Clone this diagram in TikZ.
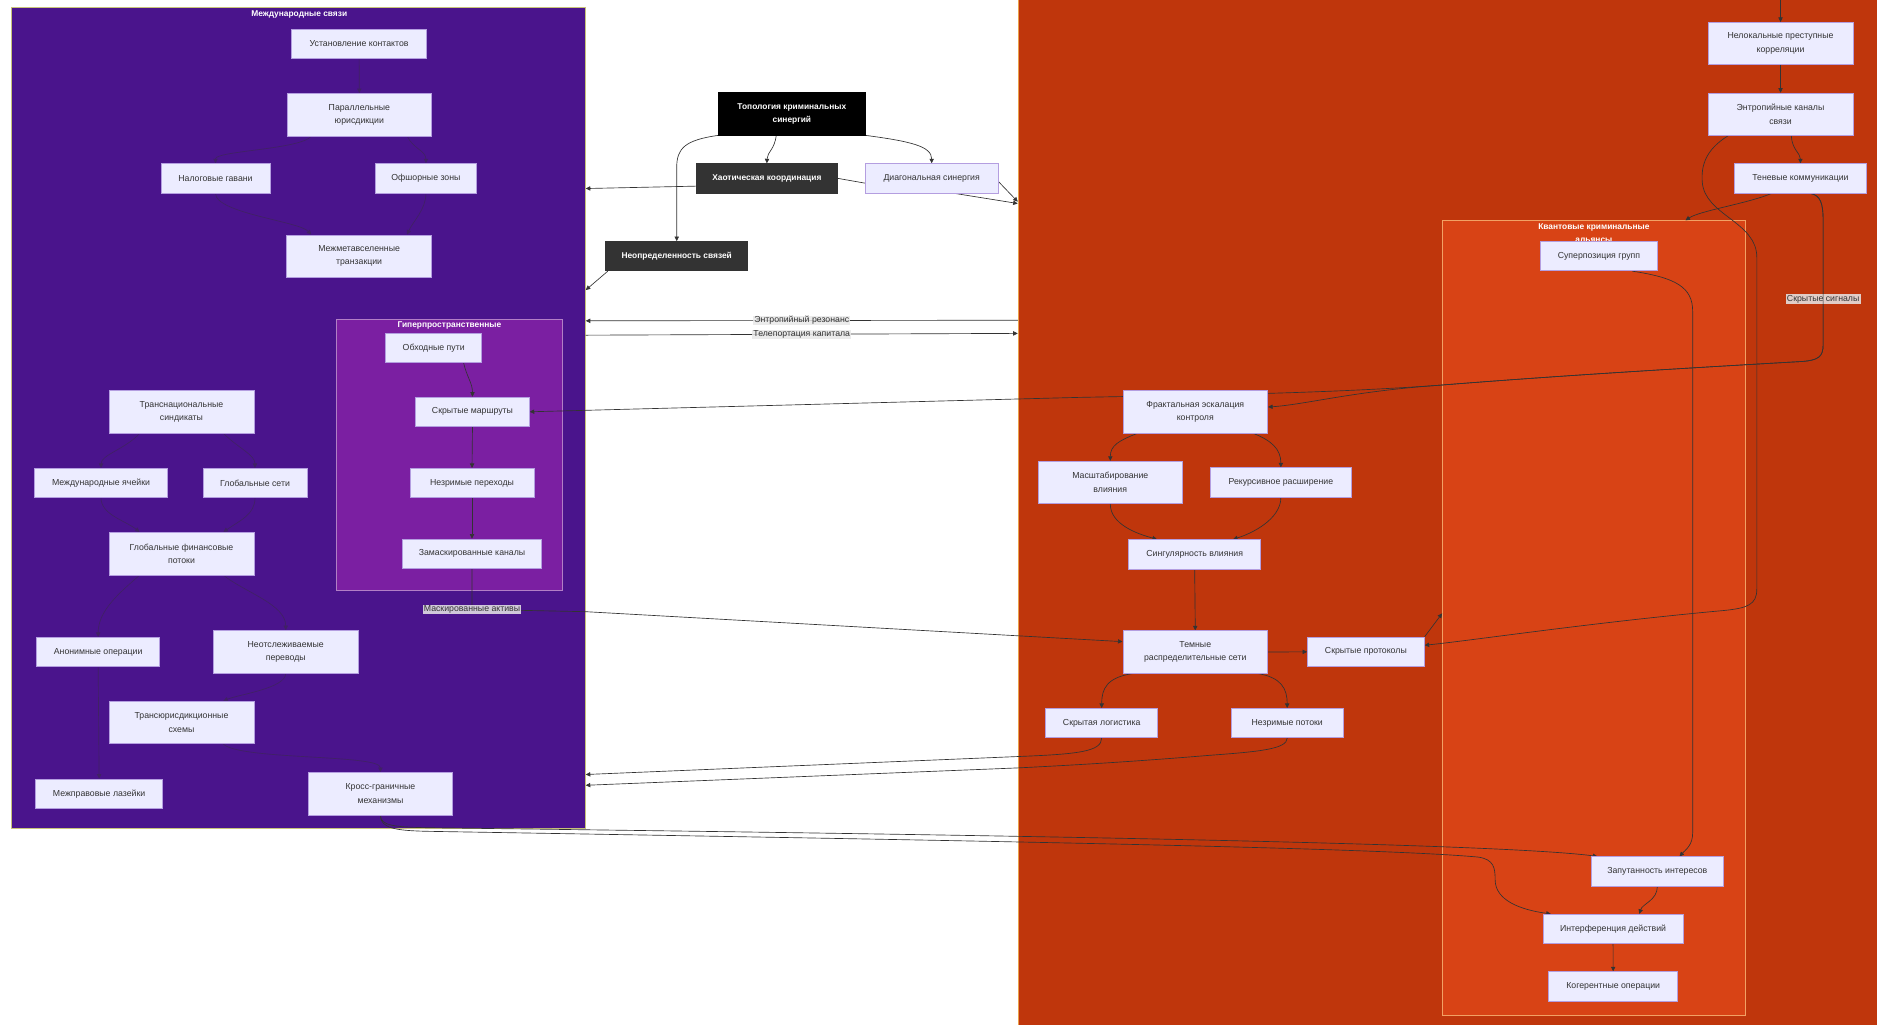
\documentclass[tikz,border=0pt]{standalone}
\usepackage{fontspec}
\setmainfont{Liberation Sans}
\usetikzlibrary{arrows.meta}

\definecolor{grpLeft}{HTML}{4A148C}
\definecolor{grpHyper}{HTML}{7B1FA2}
\definecolor{grpRight}{HTML}{BF360C}
\definecolor{grpQuant}{HTML}{D84315}
\definecolor{lineLeft}{HTML}{C8C27A}
\definecolor{lineHyper}{HTML}{B27FC6}
\definecolor{lineRight}{HTML}{EBA048}
\definecolor{lineQuant}{HTML}{F2A164}
\definecolor{boxFill}{HTML}{ECECFF}
\definecolor{boxLine}{HTML}{B49EE0}
\definecolor{inkDark}{HTML}{333333}
\definecolor{lblFill}{HTML}{E8E8E8}

\pgfdeclarelayer{groups}
\pgfdeclarelayer{edges}
\pgfsetlayers{groups,edges,main}

\begin{document}
\begin{tikzpicture}[x=1pt, y=-1pt,
  box/.style={draw=boxLine, line width=.6pt, fill=boxFill, text=inkDark,
    font=\fontsize{7.3}{11.2}\selectfont, align=center, inner sep=0pt,
    minimum height=24.5pt},
  tallbox/.style={box, minimum height=35.5pt},
  darkbox/.style={box, draw=inkDark, fill=inkDark, text=white,
    font=\fontsize{7}{11.2}\selectfont\bfseries},
  grp/.style={line width=.6pt, inner sep=0pt},
  grptitle/.style={text=white, font=\fontsize{7}{10.8}\selectfont\bfseries,
    align=center, inner sep=0pt},
  link/.style={draw=inkDark, line width=.55pt, -{Triangle[length=3.8pt,width=3.6pt]}},
  faintlink/.style={link, draw=inkDark!45!grpLeft},
  linklbl/.style={fill=lblFill, fill opacity=.85, text opacity=1, text=inkDark,
    font=\fontsize{7.3}{9}\selectfont, inner xsep=1pt, inner ysep=.6pt}]
\useasboundingbox (0,0) rectangle (1568,856);

\begin{pgfonlayer}{groups}
  \fill[white] (0,0) rectangle (1568,856);
  \node[grp, draw=lineLeft, fill=grpLeft, minimum width=479.4pt, minimum height=686pt] (mezhdunar) at (249.3,349) {};
  \node[grp, draw=lineHyper, fill=grpHyper, minimum width=189.3pt, minimum height=226.5pt] (hypergrp) at (375.35,379.75) {};
  \node[grp, draw=lineRight, fill=grpRight, minimum width=719.5pt, minimum height=860pt] (rightgrp) at (1210.25,428) {};
  \node[grp, draw=lineQuant, fill=grpQuant, minimum width=253pt, minimum height=663.6pt] (quantgrp) at (1331.5,516.2) {};
\end{pgfonlayer}

\node[grptitle] (mezhTitle) at (250,12.5) {Международные связи};
\node[grptitle] (hyperTitle) at (375.4,272) {Гиперпространственные};
\node[grptitle] (quantTitle) at (1331.5,195.1) {Квантовые криминальные\\альянсы};

% центр
\node[darkbox, fill=black, draw=black, minimum height=35.5pt, minimum width=122pt] (topol) at (661.5,95) {Топология криминальных\\синергий};
\node[darkbox, minimum width=118pt] (chaos) at (640.6,149) {Хаотическая координация};
\node[box, minimum width=111pt] (diag) at (778.3,149) {Диагональная синергия};
\node[darkbox, minimum width=118.6pt] (neopr) at (565.3,214) {Неопределенность связей};

% международные связи
\node[box, minimum width=113pt] (ustanov) at (300,36.5) {Установление контактов};
\node[tallbox, minimum width=121pt] (parall) at (300.2,95.8) {Параллельные\\юрисдикции};
\node[box, minimum width=91pt] (nalog) at (180,149) {Налоговые гавани};
\node[box, minimum width=85pt] (offsh) at (355.8,149) {Офшорные зоны};
\node[tallbox, minimum width=121pt] (mezhmeta) at (300,214) {Межметавселенные\\транзакции};
\node[tallbox, minimum width=121pt] (transnat) at (151.6,344) {Транснациональные\\синдикаты};
\node[box, minimum width=111pt] (yacheiki) at (84.4,403.5) {Международные ячейки};
\node[box, minimum width=87pt] (globset) at (213,403.5) {Глобальные сети};
\node[tallbox, minimum width=121pt] (finpot) at (151.6,462.5) {Глобальные финансовые\\потоки};
\node[box, minimum width=103pt] (anonim) at (82,544.7) {Анонимные операции};
\node[tallbox, minimum width=121pt] (neotsl) at (238.7,544.4) {Неотслеживаемые\\переводы};
\node[tallbox, minimum width=121pt] (transyur) at (151.6,603.5) {Трансюрисдикционные\\схемы};
\node[box, minimum width=106pt] (lazeiki) at (82.8,663) {Межправовые лазейки};
\node[tallbox, minimum width=121pt] (kross) at (317.8,663) {Кросс-граничные\\механизмы};

\node[box, minimum width=80pt] (obhod) at (362.3,290.7) {Обходные пути};
\node[box, minimum width=95pt] (skrmarsh) at (394.7,344) {Скрытые маршруты};
\node[box, minimum width=103.5pt] (nezrper) at (394.3,403.5) {Незримые переходы};
\node[box, minimum width=116pt] (zamask) at (394.3,462.5) {Замаскированные каналы};

% правая группа
\node[tallbox, minimum width=121pt] (nelok) at (1487.4,36.4) {Нелокальные преступные\\корреляции};
\node[tallbox, minimum width=121pt] (entrkan) at (1487.4,95.5) {Энтропийные каналы\\связи};
\node[box, minimum width=110pt] (tenev) at (1504,149) {Теневые коммуникации};
\node[tallbox, minimum width=121pt] (fraktal) at (998.5,344) {Фрактальная эскалация\\контроля};
\node[tallbox, minimum width=121pt] (masshtab) at (927.5,403) {Масштабирование\\влияния};
\node[box, minimum width=117pt] (rekurs) at (1070,403) {Рекурсивное расширение};
\node[box, minimum width=110pt] (singul) at (998,463) {Сингулярность влияния};
\node[tallbox, minimum width=121pt] (temnye) at (998.5,544.7) {Темные\\распределительные сети};
\node[box, minimum width=97.5pt] (skrprot) at (1141,544.5) {Скрытые протоколы};
\node[box, minimum width=93.5pt] (skrlog) at (920.3,604) {Скрытая логистика};
\node[box, minimum width=94pt] (nezrpot) at (1075.3,604) {Незримые потоки};

\node[box, minimum width=98.3pt] (superpoz) at (1335.7,214) {Суперпозиция групп};
\node[box, minimum width=111pt] (zaput) at (1384.5,728) {Запутанность интересов};
\node[box, minimum width=117pt] (interf) at (1347.5,776) {Интерференция действий};
\node[box, minimum width=108pt] (kogerent) at (1347.6,824) {Когерентные операции};

\coordinate (offtop) at (1487.4,0);

\begin{pgfonlayer}{edges}
  \draw[link] ([xshift=-13pt]topol.south) .. controls (647,125) and (641,127) .. (chaos.north);
  \draw[link] (topol.south east) .. controls (760,118) and (778.3,122) .. (diag.north);
  \draw[link] (topol.south west) .. controls (572,117) and (565.3,124) .. (565.3,140) -- (neopr.north);
  \draw[link] ([yshift=-6.5pt]chaos.west) -- (mezhdunar.east |- 0,157.5);
  \draw[link] (chaos.east) -- (722.6,153) -- (794,161) -- (rightgrp.west |- 0,170);
  \draw[link] ([yshift=-2.7pt]diag.east) -- (rightgrp.west |- 0,168.5);
  \draw[link] ([xshift=2pt]neopr.south west) -- (mezhdunar.east |- 0,242.3);
  \draw[link] (rightgrp.west |- 0,267.5) -- node[linklbl] {Энтропийный резонанс} (mezhdunar.east |- 0,268);
  \draw[link] (mezhdunar.east |- 0,280) -- node[linklbl] {Телепортация капитала} (rightgrp.west |- 0,278.5);

  \draw[faintlink] (ustanov.south) -- (parall.north);
  \draw[faintlink] ([xshift=-40pt]parall.south) .. controls (250,125) and (180,126) .. (nalog.north);
  \draw[faintlink] ([xshift=40pt]parall.south) .. controls (345,124) and (355.8,126) .. (offsh.north);
  \draw[faintlink] (nalog.south) .. controls (180,178) and (250,185) .. ([xshift=-40pt]mezhmeta.north);
  \draw[faintlink] (offsh.south) .. controls (355.8,175) and (345,185) .. ([xshift=40pt]mezhmeta.north);
  \draw[faintlink] ([xshift=-35pt]transnat.south) .. controls (105,375) and (84.4,380) .. (yacheiki.north);
  \draw[faintlink] ([xshift=35pt]transnat.south) .. controls (200,375) and (213,380) .. (globset.north);
  \draw[faintlink] (yacheiki.south) .. controls (84.4,430) and (105,435) .. ([xshift=-35pt]finpot.north);
  \draw[faintlink] (globset.south) .. controls (213,430) and (200,435) .. ([xshift=35pt]finpot.north);
  \draw[faintlink] ([xshift=-35pt]finpot.south) .. controls (100,495) and (82,510) .. (anonim.north);
  \draw[faintlink] ([xshift=35pt]finpot.south) .. controls (205,495) and (238.7,505) .. (neotsl.north);
  \draw[faintlink] (anonim.south) -- (lazeiki.north);
  \draw[faintlink] (neotsl.south) .. controls (238.7,575) and (200,580) .. ([xshift=35pt]transyur.north);
  \draw[faintlink] ([xshift=35pt]transyur.south) .. controls (200,635) and (317.8,630) .. (kross.north);

  \draw[link] ([xshift=25pt]obhod.south) .. controls (390,315) and (394.7,320) .. (skrmarsh.north);
  \draw[link] (skrmarsh.south) -- (nezrper.north);
  \draw[link] (nezrper.south) -- (zamask.north);
  \draw[link] (zamask.south) -- (394.3,509) node[linklbl] (maskLbl) {Маскированные активы}
    -- (489.5,511) -- ([yshift=8.7pt]temnye.west);

  \draw[link] (offtop) -- (nelok.north);
  \draw[link] (nelok.south) -- (entrkan.north);
  \draw[link] ([xshift=9pt]entrkan.south) .. controls (1497,125) and (1504,128) .. (tenev.north);
  \draw[link] ([xshift=-24pt]tenev.south) .. controls (1460,170) and (1420,176) .. (quantgrp.north -| 1408,0);
  \draw[link] ([xshift=8pt]tenev.south) .. controls (1521,163) and (1523,170) .. (1523,185)
    -- node[linklbl, pos=.63] {Скрытые сигналы} (1523,288)
    .. controls (1523,298) and (1519,301) .. (1505,302)
    .. controls (1400,308) and (1300,314) .. (1200,322)
    .. controls (1100,329) and (1000,330) .. (900,332) -- (skrmarsh.east);
  \draw[link] ([xshift=8pt]tenev.south) .. controls (1521,163) and (1523,170) .. (1523,185)
    -- (1523,288) .. controls (1523,298) and (1519,301) .. (1505,302)
    .. controls (1400,308) and (1300,314) .. (1200,322)
    .. controls (1130,327) and (1090,338) .. ([yshift=4pt]fraktal.east);
  \draw[link] ([xshift=-44pt]entrkan.south) .. controls (1425,125) and (1421,138) .. (1422,152)
    .. controls (1424,180) and (1467.6,185) .. (1467.6,215) -- (1467.6,492)
    .. controls (1467.6,505) and (1460,508) .. (1440,510)
    .. controls (1330,520) and (1230,535) .. ([yshift=5.5pt]skrprot.east);
  \draw[link] (skrprot.north east) -- (quantgrp.west |- 0,512.4);

  \draw[link] ([xshift=-48.5pt]fraktal.south) .. controls (935,368) and (927.5,372) .. (masshtab.north);
  \draw[link] ([xshift=48.5pt]fraktal.south) .. controls (1062,368) and (1070,375) .. (rekurs.north);
  \draw[link] (masshtab.south) .. controls (927.5,438) and (950,446) .. ([xshift=-31.5pt]singul.north);
  \draw[link] (rekurs.south) .. controls (1070,434) and (1045,446) .. ([xshift=32pt]singul.north);
  \draw[link] (singul.south) -- (temnye.north);
  \draw[link] (temnye.east) -- (skrprot.west);
  \draw[link] ([xshift=8pt]temnye.south west) .. controls (925,566) and (920.3,575) .. (skrlog.north);
  \draw[link] ([xshift=-8pt]temnye.south east) .. controls (1070,566) and (1075.3,575) .. (nezrpot.north);
  \draw[link] (skrlog.south) .. controls (920.3,628) and (900,630) .. (850,632) -- (mezhdunar.east |- 0,647);
  \draw[link] (nezrpot.south) .. controls (1075.3,626) and (1050,628) .. (1010,631)
    .. controls (950,636) and (900,639) .. (850,641.5) -- (mezhdunar.east |- 0,656);

  \draw[link] (kross.south) .. controls (317.8,690) and (330,691) .. (360,691.5)
    .. controls (800,697) and (1250,704) .. ([xshift=-50pt]zaput.north);
  \draw[link] (kross.south) .. controls (317.8,692) and (330,694) .. (360,694.5)
    .. controls (800,702) and (1150,708) .. (1235,716)
    .. controls (1248,718) and (1249,725) .. (1249,735)
    .. controls (1249,752) and (1270,760) .. ([xshift=-52pt]interf.north);
  \draw[link] ([xshift=28pt]superpoz.south) .. controls (1400,232) and (1414,240) .. (1414,260)
    -- (1414,696) .. controls (1414,706) and (1408,710) .. ([xshift=18.5pt]zaput.north);
  \draw[link] (zaput.south) .. controls (1384.5,752) and (1372,755) .. ([xshift=22pt]interf.north);
  \draw[link] (interf.south) -- (kogerent.north);
\end{pgfonlayer}
\end{tikzpicture}
\end{document}
